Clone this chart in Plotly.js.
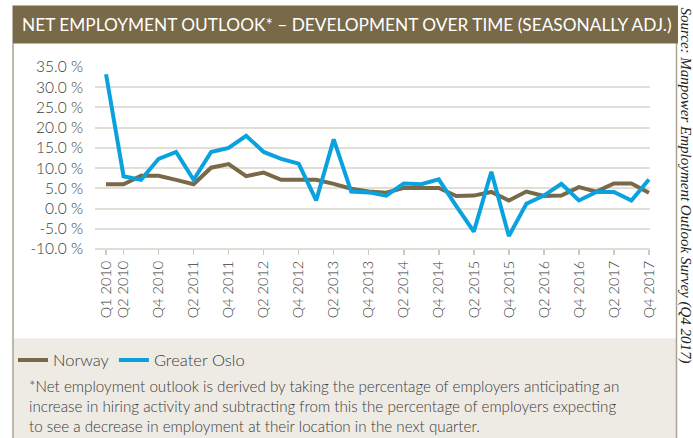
<!DOCTYPE html>
<html>
<head>
<meta charset="utf-8">
<script src="https://cdn.plot.ly/plotly-3.0.1.min.js"></script>
<style>
html,body{margin:0;padding:0;background:#ffffff;}
#chart{width:693px;height:438px;}
</style>
</head>
<body>
<div id="chart"></div>
<script>
// ---- data ----
const quarters = [
  "Q1 2010","Q2 2010","Q3 2010","Q4 2010",
  "Q1 2011","Q2 2011","Q3 2011","Q4 2011",
  "Q1 2012","Q2 2012","Q3 2012","Q4 2012",
  "Q1 2013","Q2 2013","Q3 2013","Q4 2013",
  "Q1 2014","Q2 2014","Q3 2014","Q4 2014",
  "Q1 2015","Q2 2015","Q3 2015","Q4 2015",
  "Q1 2016","Q2 2016","Q3 2016","Q4 2016",
  "Q1 2017","Q2 2017","Q3 2017","Q4 2017"
];
const norway = [6.0, 6.0, 8.1, 8.1, 7.1, 6.0, 10.1, 11.0, 8.0, 8.9, 7.1, 7.1,
                7.1, 6.1, 4.9, 4.2, 3.9, 5.1, 5.1, 5.1, 3.1, 3.2, 4.1, 2.0,
                4.2, 3.1, 3.2, 5.3, 4.2, 6.2, 6.2, 3.9];
const greaterOslo = [33.2, 8.0, 7.1, 12.3, 14.0, 7.1, 14.0, 15.0, 18.0, 14.0, 12.3, 11.1,
                     2.0, 17.1, 4.2, 4.0, 3.2, 6.2, 6.0, 7.2, 0.6, -5.7, 9.1, -6.8,
                     1.2, 3.2, 6.1, 2.0, 4.1, 4.1, 2.0, 7.2];
const xTickLabels = ["Q1 2010","Q2 2010","Q4 2010","Q2 2011","Q4 2011","Q2 2012","Q4 2012",
                     "Q2 2013","Q4 2013","Q2 2014","Q4 2014","Q2 2015","Q4 2015",
                     "Q2 2016","Q4 2016","Q2 2017","Q4 2017"];
const yTickVals = [35, 30, 25, 20, 15, 10, 5, 0, -5, -10];
const yTickText = ["35.0 %","30.0 %","25.0 %","20.0 %","15.0 %","10.0 %","5.0 %","0.0 %","-5.0 %","-10.0 %"];
const seriesNames = ["Norway", "Greater Oslo"];

const titleText = "NET EMPLOYMENT OUTLOOK* – DEVELOPMENT OVER TIME (SEASONALLY ADJ.)";
const footText = "*Net employment outlook is derived by taking the percentage of employers anticipating an<br>" +
                 "increase in hiring activity and subtracting from this the percentage of employers expecting<br>" +
                 "to see a decrease in employment at their location in the next quarter.";
const sourceText = "Source: Manpower Employment Outlook Survey (Q4 2017)";

// ---- layout geometry (pixels) ----
const W = 693, H = 438;
const M = {l: 95, r: 43, t: 66.7, b: 188.7};
const PW = W - M.l - M.r, PH = H - M.t - M.b;
const px = x => (x - M.l) / PW;
const py = y => 1 - (y - M.t) / PH;

const brown = "#786948";
const blue = "#0aa2de";
const textCol = "#3b3b3b";
const lightFont = (size, color) => ({size: size, color: color || textCol, family: "Lato", weight: 300});

const traces = [
  {x: quarters, y: norway, name: seriesNames[0], type: "scatter", mode: "lines",
   line: {color: brown, width: 4, shape: "linear"}},
  {x: quarters, y: greaterOslo, name: seriesNames[1], type: "scatter", mode: "lines",
   line: {color: blue, width: 4, shape: "linear"}}
];

const layout = {
  width: W, height: H,
  margin: M,
  paper_bgcolor: "#ffffff",
  plot_bgcolor: "rgba(0,0,0,0)",
  font: {family: "Lato, 'Open Sans', sans-serif", color: textCol},
  showlegend: true,
  legend: {
    orientation: "h",
    x: px(13), y: py(361), xanchor: "left", yanchor: "middle",
    font: lightFont(16.5),
    bgcolor: "rgba(0,0,0,0)",
    itemwidth: 30, tracegroupgap: 0
  },
  xaxis: {
    type: "category",
    range: [-0.63, 31.06],
    tickmode: "array",
    tickvals: xTickLabels,
    ticktext: xTickLabels,
    tickangle: -90,
    ticks: "outside", ticklen: 5, tickwidth: 1.5, tickcolor: "#cfc9bd",
    tickfont: lightFont(14.5),
    showgrid: false, zeroline: false,
    showline: false,
    fixedrange: true
  },
  yaxis: {
    range: [-10, 35],
    tickmode: "array",
    tickvals: yTickVals,
    ticktext: yTickText,
    tickfont: lightFont(15.5),
    ticks: "", ticklabelstandoff: 11,
    showgrid: true, gridcolor: "#e4dfd6", gridwidth: 2,
    zeroline: false, showline: false,
    fixedrange: true
  },
  shapes: [
    // footer background
    {type: "rect", xref: "paper", yref: "paper", layer: "below",
     x0: px(13), x1: px(676), y0: py(339), y1: py(440),
     fillcolor: "#eeeae4", line: {width: 0}},
    // x axis base line (bottom gridline)
    {type: "line", xref: "paper", yref: "paper", layer: "below",
     x0: 0, x1: 1, y0: 0, y1: 0, line: {color: "#d8d2c7", width: 1.5}},
    // box left/right borders
    {type: "line", xref: "paper", yref: "paper",
     x0: px(13), x1: px(13), y0: py(43), y1: py(440), line: {color: "#aaa395", width: 1.5}},
    {type: "line", xref: "paper", yref: "paper",
     x0: px(676.5), x1: px(676.5), y0: py(43), y1: py(440), line: {color: "#aaa395", width: 1.5}},
    // title bar
    {type: "rect", xref: "paper", yref: "paper",
     x0: px(12.5), x1: px(678), y0: py(43), y1: py(5),
     fillcolor: brown, line: {width: 0}}
  ],
  annotations: [
    {text: titleText, xref: "paper", yref: "paper", x: px(20), y: py(24.5),
     xanchor: "left", yanchor: "middle", showarrow: false,
     font: {size: 17.3, color: "#ffffff", family: "Lato", weight: 400}},
    {text: footText, xref: "paper", yref: "paper", x: px(27), y: py(375.5),
     xanchor: "left", yanchor: "top", align: "left", showarrow: false,
     font: lightFont(15.2)},
    {text: "<i>" + sourceText + "</i>", xref: "paper", yref: "paper", x: px(685), y: py(5),
     xanchor: "center", yanchor: "top", textangle: 90, showarrow: false,
     font: {size: 15, color: "#222222", family: "'Liberation Serif', 'DejaVu Serif', serif"}}
  ]
};

Plotly.newPlot("chart", traces, layout, {displayModeBar: false, staticPlot: true});
</script>
</body>
</html>
